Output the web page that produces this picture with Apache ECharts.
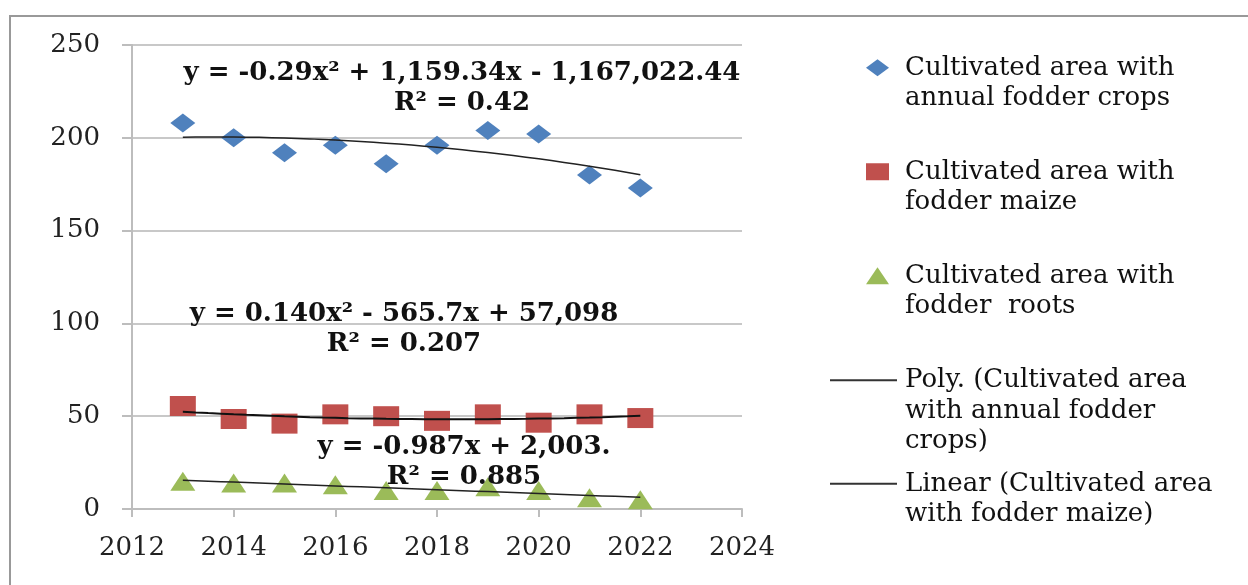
<!DOCTYPE html>
<html>
<head>
<meta charset="utf-8">
<script src="https://cdn.jsdelivr.net/npm/echarts@6/dist/echarts.min.js"></script>
<style>
  html, body { margin: 0; padding: 0; background: #fff; }
  #chart { width: 1248px; height: 585px; }
</style>
</head>
<body>
<div id="chart"></div>
<script>
// data
const years = [2013, 2014, 2015, 2016, 2017, 2018, 2019, 2020, 2021, 2022]
const annualFodder = [208, 200, 192, 196, 186, 196, 204, 202, 180, 173]
const fodderMaize = [55.5, 48.5, 46, 51, 50, 47.5, 51, 46.5, 51, 49]
const fodderRoots = [15, 14, 14, 13, 10, 10, 12, 10, 6, 5]

const names = [
  'Cultivated area with\nannual fodder crops',
  'Cultivated area with\nfodder maize',
  'Cultivated area with\nfodder  roots',
  'Poly. (Cultivated area\nwith annual fodder\ncrops)',
  'Linear (Cultivated area\nwith fodder maize)'
]
const equations = [
  ['y = -0.29x² + 1,159.34x - 1,167,022.44', 'R² = 0.42'],
  ['y = 0.140x² - 565.7x + 57,098', 'R² = 0.207'],
  ['y = -0.987x + 2,003.', 'R² = 0.885']
]

const serif = 'DejaVu Serif'

// least squares fit of given degree, x centred for stability
function fit(xs, ys, deg) {
  const x0 = xs.reduce((a, b) => a + b, 0) / xs.length
  const n = deg + 1
  const m = []
  for (let i = 0; i < n; i++) m.push(new Array(n + 1).fill(0))
  xs.forEach((x, k) => {
    const t = x - x0
    for (let i = 0; i < n; i++) {
      for (let j = 0; j < n; j++) m[i][j] += Math.pow(t, i + j)
      m[i][n] += ys[k] * Math.pow(t, i)
    }
  })
  for (let i = 0; i < n; i++) {
    for (let r = i + 1; r < n; r++) {
      const f = m[r][i] / m[i][i]
      for (let c = i; c <= n; c++) m[r][c] -= f * m[i][c]
    }
  }
  const c = new Array(n).fill(0)
  for (let i = n - 1; i >= 0; i--) {
    let s = m[i][n]
    for (let j = i + 1; j < n; j++) s -= m[i][j] * c[j]
    c[i] = s / m[i][i]
  }
  return x => c.reduce((s, ci, i) => s + ci * Math.pow(x - x0, i), 0)
}

function trend(ys, deg) {
  const f = fit(years, ys, deg)
  const pts = []
  for (let x = years[0]; x <= years[years.length - 1] + 1e-9; x += 0.25) pts.push([x, f(x)])
  return pts
}

const pair = ys => years.map((y, i) => [y, ys[i]])

const chart = echarts.init(document.getElementById('chart'))

const legendText = { fontFamily: serif, fontSize: 26, color: '#111', lineHeight: 30.5 }

function scatterLegend(name, top) {
  return {
    orient: 'vertical', padding: 0, selectedMode: false,
    data: [name], left: 866, top: top, itemWidth: 23, itemHeight: 17,
    formatter: n => '\n' + n,
    textStyle: Object.assign({}, legendText, { padding: [0, 0, 0, 11] })
  }
}

function lineLegend(name, top, blank) {
  return {
    orient: 'vertical', padding: 0, selectedMode: false,
    data: [{ name: name, icon: 'rect' }], left: 830, top: top, itemWidth: 67, itemHeight: 2,
    itemStyle: { color: '#333' },
    formatter: n => blank + n,
    textStyle: Object.assign({}, legendText, { padding: [0, 0, 0, 3] })
  }
}

let option = {
  animation: false,
  backgroundColor: '#fff',
  grid: { left: 132, right: 506, top: 45, bottom: 76 },
  xAxis: {
    type: 'value', min: 2012, max: 2024, interval: 2,
    axisLine: { lineStyle: { color: '#bdbdbd', width: 2 } },
    axisTick: { show: true, length: 8, lineStyle: { color: '#bdbdbd', width: 2 } },
    axisLabel: { fontFamily: serif, fontSize: 26, color: '#222', margin: 26, formatter: v => String(v) },
    splitLine: { show: false }
  },
  yAxis: {
    type: 'value', min: 0, max: 250, interval: 50,
    axisLine: { show: true, lineStyle: { color: '#bdbdbd', width: 2 } },
    axisTick: { show: true, length: 10, lineStyle: { color: '#bdbdbd', width: 2 } },
    axisLabel: { fontFamily: serif, fontSize: 26, color: '#222', margin: 32 },
    splitLine: { lineStyle: { color: '#c8c8c8', width: 2 } }
  },
  legend: [
    scatterLegend(names[0], 22),
    scatterLegend(names[1], 126),
    scatterLegend(names[2], 230),
    lineLegend(names[3], 304, '\n\n'),
    lineLegend(names[4], 438, '\n')
  ],
  series: [
    { name: names[0], type: 'scatter', symbol: 'diamond', symbolSize: [25, 19],
      itemStyle: { color: '#4F81BD', opacity: 1 }, data: pair(annualFodder), z: 2 },
    { name: names[1], type: 'scatter', symbol: 'rect', symbolSize: [26, 20],
      itemStyle: { color: '#C0504D', opacity: 1 }, data: pair(fodderMaize), z: 2 },
    { name: names[2], type: 'scatter', symbol: 'triangle', symbolSize: [25, 19],
      itemStyle: { color: '#9BBB59', opacity: 1 }, data: pair(fodderRoots), z: 2 },
    { name: names[3], type: 'line', symbol: 'none',
      lineStyle: { color: '#222', width: 1.5 }, itemStyle: { color: '#222' },
      data: trend(annualFodder, 2), z: 3 },
    { name: names[4], type: 'line', symbol: 'none',
      lineStyle: { color: '#111', width: 2 }, itemStyle: { color: '#222' },
      data: trend(fodderMaize, 2), z: 3 },
    { name: 'roots trend', type: 'line', symbol: 'none',
      lineStyle: { color: '#222', width: 1.5 },
      data: trend(fodderRoots, 1), z: 3 }
  ],
  graphic: [
    { type: 'rect', shape: { x: 10, y: 16, width: 1250, height: 580 },
      style: { fill: 'none', stroke: '#999', lineWidth: 2 }, z: -1 },
    ...[[462, 88], [404, 329], [464, 462]].map((p, i) => ({
      type: 'text', x: p[0], y: p[1], z: 10,
      style: {
        text: equations[i].join('\n'), align: 'center', verticalAlign: 'middle',
        font: 'bold 26px "DejaVu Serif"', fill: '#111', lineHeight: 30
      }
    }))
  ]
}

chart.setOption(option)
</script>
</body>
</html>
